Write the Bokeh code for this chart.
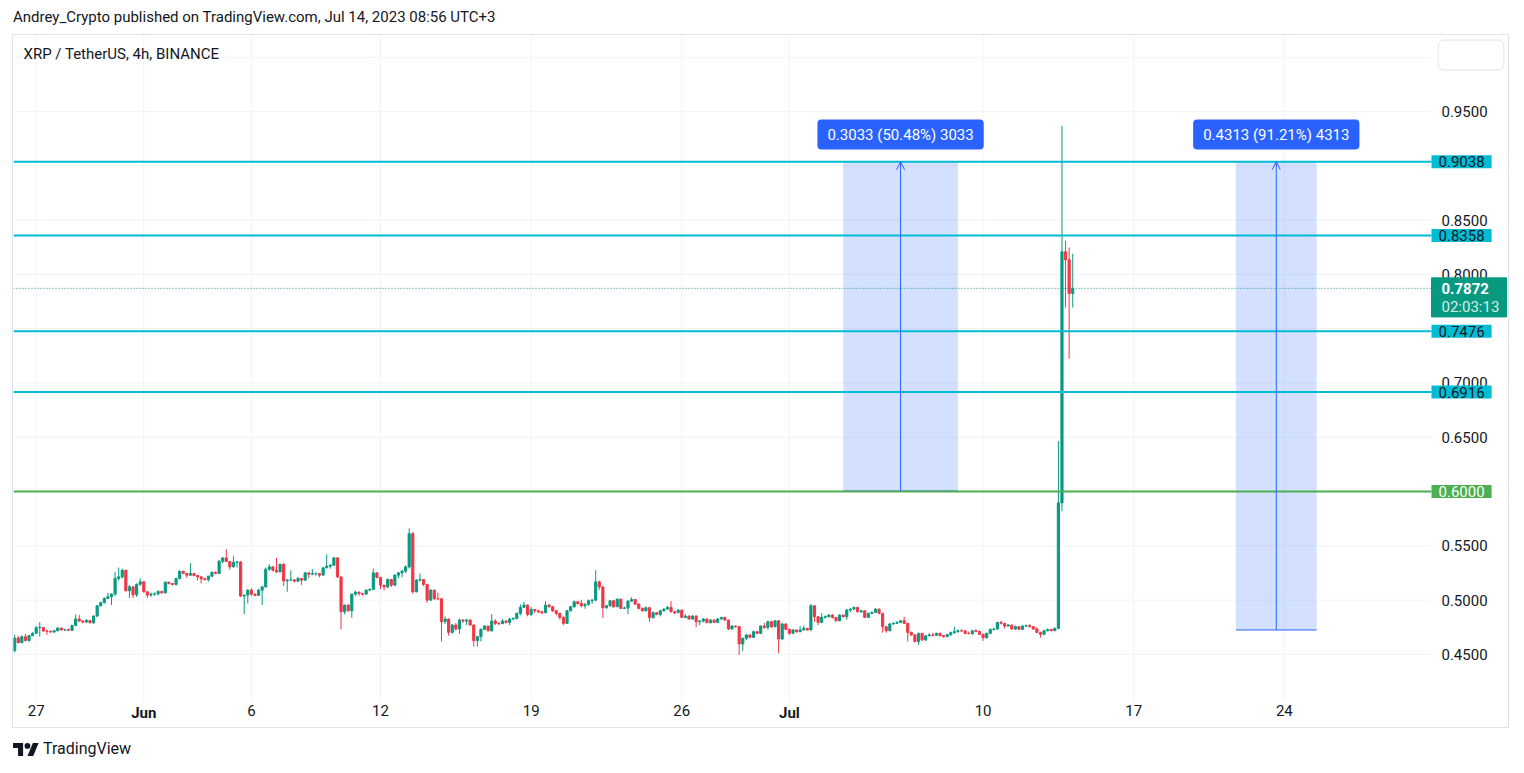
from bokeh.plotting import figure
from bokeh.models import (ColumnDataSource, FixedTicker, Label, Arrow, OpenHead,
                          Range1d, Div)
from bokeh.layouts import column
from bokeh.embed import file_html
from bokeh.resources import INLINE

# ---------------- data (XRP/USDT 4h) ----------------
first_open = 0.4535
closes = [
    0.4651, 0.4608, 0.4663, 0.4627, 0.4673, 0.4694, 0.4746, 0.4749, 0.4715, 0.4712,
    0.4706, 0.4718, 0.4743, 0.4725, 0.4728, 0.4722, 0.4767, 0.4826, 0.4807, 0.4798,
    0.4812, 0.4792, 0.4853, 0.4948, 0.4976, 0.5015, 0.5031, 0.5055, 0.5199, 0.5214,
    0.5275, 0.5086, 0.5122, 0.5049, 0.5147, 0.5168, 0.5077, 0.5046, 0.5055, 0.5058,
    0.5080, 0.5067, 0.5165, 0.5153, 0.5144, 0.5199, 0.5266, 0.5245, 0.5230, 0.5245,
    0.5226, 0.5214, 0.5196, 0.5190, 0.5220, 0.5257, 0.5245, 0.5358, 0.5389, 0.5355,
    0.5306, 0.5349, 0.5352, 0.5037, 0.5046, 0.5092, 0.5055, 0.5043, 0.5092, 0.5122,
    0.5285, 0.5306, 0.5275, 0.5260, 0.5330, 0.5177, 0.5184, 0.5186, 0.5174, 0.5199,
    0.5184, 0.5251, 0.5239, 0.5242, 0.5245, 0.5230, 0.5297, 0.5312, 0.5321, 0.5389,
    0.5214, 0.4893, 0.4954, 0.4902, 0.5055, 0.5073, 0.5061, 0.5055, 0.5092, 0.5098,
    0.5251, 0.5208, 0.5138, 0.5122, 0.5190, 0.5138, 0.5230, 0.5251, 0.5266, 0.5306,
    0.5612, 0.5077, 0.5184, 0.5190, 0.5144, 0.5000, 0.5092, 0.5015, 0.5012, 0.4801,
    0.4826, 0.4703, 0.4771, 0.4734, 0.4816, 0.4807, 0.4816, 0.4771, 0.4627, 0.4663,
    0.4731, 0.4761, 0.4718, 0.4807, 0.4786, 0.4783, 0.4807, 0.4795, 0.4826, 0.4832,
    0.4878, 0.4933, 0.4954, 0.4868, 0.4914, 0.4902, 0.4893, 0.4884, 0.4954, 0.4939,
    0.4902, 0.4878, 0.4841, 0.4786, 0.4902, 0.4939, 0.4985, 0.4969, 0.4948, 0.4960,
    0.4994, 0.5000, 0.5168, 0.5122, 0.4930, 0.4948, 0.4994, 0.4939, 0.5009, 0.4924,
    0.4927, 0.4991, 0.5006, 0.4963, 0.4924, 0.4902, 0.4930, 0.4838, 0.4884, 0.4868,
    0.4902, 0.4917, 0.4933, 0.4893, 0.4884, 0.4908, 0.4841, 0.4853, 0.4826, 0.4853,
    0.4801, 0.4807, 0.4826, 0.4792, 0.4816, 0.4795, 0.4826, 0.4841, 0.4816, 0.4734,
    0.4761, 0.4755, 0.4596, 0.4648, 0.4679, 0.4657, 0.4709, 0.4694, 0.4761, 0.4749,
    0.4801, 0.4755, 0.4810, 0.4642, 0.4780, 0.4731, 0.4694, 0.4725, 0.4709, 0.4725,
    0.4740, 0.4725, 0.4948, 0.4847, 0.4795, 0.4841, 0.4847, 0.4862, 0.4841, 0.4810,
    0.4862, 0.4847, 0.4908, 0.4917, 0.4933, 0.4893, 0.4902, 0.4841, 0.4878, 0.4887,
    0.4917, 0.4878, 0.4755, 0.4718, 0.4780, 0.4786, 0.4795, 0.4810, 0.4786, 0.4703,
    0.4679, 0.4618, 0.4694, 0.4633, 0.4670, 0.4679, 0.4676, 0.4694, 0.4673, 0.4663,
    0.4682, 0.4700, 0.4709, 0.4718, 0.4716, 0.4694, 0.4692, 0.4718, 0.4712, 0.4685,
    0.4654, 0.4694, 0.4730, 0.4734, 0.4795, 0.4786, 0.4761, 0.4770, 0.4734, 0.4755,
    0.4731, 0.4761, 0.4764, 0.4755, 0.4734, 0.4703, 0.4685, 0.4718, 0.4730, 0.4718,
    0.4740, 0.5896, 0.8209, 0.8135, 0.7824, 0.7872,
]
highs = [
    0.4680, 0.4670, 0.4675, 0.4688, 0.4680, 0.4705, 0.4760, 0.4798, 0.4752, 0.4730,
    0.4720, 0.4725, 0.4748, 0.4745, 0.4735, 0.4738, 0.4772, 0.4868, 0.4862, 0.4815,
    0.4825, 0.4820, 0.4860, 0.4955, 0.4985, 0.5025, 0.5067, 0.5062, 0.5260, 0.5300,
    0.5290, 0.5280, 0.5140, 0.5130, 0.5152, 0.5199, 0.5172, 0.5080, 0.5070, 0.5070,
    0.5090, 0.5085, 0.5170, 0.5168, 0.5158, 0.5205, 0.5275, 0.5270, 0.5250, 0.5340,
    0.5250, 0.5230, 0.5220, 0.5205, 0.5225, 0.5262, 0.5262, 0.5370, 0.5395, 0.5468,
    0.5360, 0.5404, 0.5360, 0.5358, 0.5050, 0.5100, 0.5110, 0.5060, 0.5100, 0.5130,
    0.5300, 0.5330, 0.5310, 0.5389, 0.5335, 0.5340, 0.5195, 0.5275, 0.5190, 0.5215,
    0.5205, 0.5260, 0.5255, 0.5285, 0.5255, 0.5250, 0.5305, 0.5422, 0.5330, 0.5395,
    0.5392, 0.5214, 0.4960, 0.4960, 0.5060, 0.5090, 0.5080, 0.5065, 0.5100, 0.5110,
    0.5290, 0.5255, 0.5215, 0.5140, 0.5200, 0.5195, 0.5240, 0.5260, 0.5280, 0.5320,
    0.5661, 0.5627, 0.5195, 0.5245, 0.5195, 0.5150, 0.5100, 0.5095, 0.5070, 0.5020,
    0.4850, 0.4830, 0.4780, 0.4790, 0.4830, 0.4825, 0.4830, 0.4825, 0.4775, 0.4670,
    0.4740, 0.4770, 0.4765, 0.4871, 0.4825, 0.4795, 0.4825, 0.4815, 0.4835, 0.4840,
    0.4885, 0.4960, 0.4985, 0.4960, 0.4935, 0.4920, 0.4910, 0.4900, 0.4990, 0.4965,
    0.4945, 0.4910, 0.4885, 0.4850, 0.4910, 0.4945, 0.4995, 0.4990, 0.5003, 0.4975,
    0.5005, 0.5010, 0.5275, 0.5180, 0.5125, 0.4955, 0.5000, 0.4998, 0.5015, 0.5012,
    0.4940, 0.4998, 0.5025, 0.5010, 0.4970, 0.4930, 0.4940, 0.4935, 0.4895, 0.4890,
    0.4910, 0.4925, 0.4945, 0.4990, 0.4900, 0.4915, 0.4912, 0.4870, 0.4858, 0.4860,
    0.4858, 0.4815, 0.4835, 0.4832, 0.4825, 0.4820, 0.4835, 0.4845, 0.4845, 0.4820,
    0.4770, 0.4765, 0.4760, 0.4655, 0.4690, 0.4685, 0.4720, 0.4715, 0.4768, 0.4790,
    0.4810, 0.4810, 0.4815, 0.4812, 0.4790, 0.4785, 0.4735, 0.4730, 0.4728, 0.4760,
    0.4765, 0.4745, 0.4963, 0.4950, 0.4850, 0.4880, 0.4860, 0.4870, 0.4870, 0.4845,
    0.4870, 0.4865, 0.4920, 0.4925, 0.4940, 0.4938, 0.4910, 0.4905, 0.4885, 0.4895,
    0.4925, 0.4922, 0.4880, 0.4760, 0.4790, 0.4795, 0.4805, 0.4815, 0.4847, 0.4790,
    0.4710, 0.4685, 0.4700, 0.4698, 0.4680, 0.4695, 0.4700, 0.4700, 0.4700, 0.4680,
    0.4690, 0.4710, 0.4755, 0.4730, 0.4730, 0.4725, 0.4710, 0.4725, 0.4730, 0.4718,
    0.4690, 0.4700, 0.4740, 0.4745, 0.4800, 0.4810, 0.4790, 0.4780, 0.4775, 0.4765,
    0.4760, 0.4768, 0.4775, 0.4780, 0.4760, 0.4750, 0.4710, 0.4725, 0.4738, 0.4735,
    0.4745, 0.6465, 0.9370, 0.8310, 0.8248, 0.8190,
]
lows = [
    0.4520, 0.4600, 0.4605, 0.4620, 0.4615, 0.4668, 0.4690, 0.4663, 0.4710, 0.4680,
    0.4700, 0.4700, 0.4712, 0.4720, 0.4715, 0.4718, 0.4715, 0.4760, 0.4800, 0.4785,
    0.4790, 0.4785, 0.4780, 0.4845, 0.4940, 0.4970, 0.5010, 0.4955, 0.5040, 0.5180,
    0.5200, 0.5080, 0.5020, 0.5020, 0.5030, 0.5130, 0.5070, 0.5020, 0.5030, 0.5040,
    0.5040, 0.5060, 0.5060, 0.5145, 0.5135, 0.5135, 0.5190, 0.5240, 0.5205, 0.5225,
    0.5220, 0.5180, 0.5153, 0.5180, 0.5170, 0.5215, 0.5240, 0.5240, 0.5340, 0.5350,
    0.5280, 0.5300, 0.5300, 0.5030, 0.4871, 0.4970, 0.5040, 0.5035, 0.5040, 0.4955,
    0.5115, 0.5270, 0.5265, 0.5250, 0.5255, 0.5130, 0.5077, 0.5180, 0.5165, 0.5170,
    0.5140, 0.5180, 0.5200, 0.5230, 0.5225, 0.5210, 0.5225, 0.5300, 0.5290, 0.5315,
    0.5205, 0.4731, 0.4868, 0.4895, 0.4838, 0.5040, 0.5040, 0.5040, 0.5050, 0.5085,
    0.5095, 0.5200, 0.5100, 0.5090, 0.5110, 0.5120, 0.5130, 0.5200, 0.5210, 0.5250,
    0.5290, 0.5060, 0.5070, 0.5170, 0.5130, 0.4976, 0.4995, 0.5000, 0.5000, 0.4618,
    0.4780, 0.4672, 0.4690, 0.4720, 0.4690, 0.4790, 0.4770, 0.4765, 0.4572, 0.4572,
    0.4620, 0.4725, 0.4710, 0.4710, 0.4770, 0.4770, 0.4780, 0.4785, 0.4770, 0.4815,
    0.4820, 0.4860, 0.4930, 0.4850, 0.4855, 0.4880, 0.4880, 0.4870, 0.4880, 0.4930,
    0.4890, 0.4860, 0.4820, 0.4770, 0.4780, 0.4895, 0.4930, 0.4960, 0.4935, 0.4920,
    0.4950, 0.4965, 0.4990, 0.5095, 0.4835, 0.4920, 0.4940, 0.4930, 0.4935, 0.4920,
    0.4920, 0.4870, 0.4985, 0.4960, 0.4915, 0.4895, 0.4895, 0.4800, 0.4830, 0.4860,
    0.4850, 0.4895, 0.4915, 0.4885, 0.4870, 0.4880, 0.4835, 0.4835, 0.4820, 0.4820,
    0.4750, 0.4770, 0.4795, 0.4788, 0.4785, 0.4790, 0.4790, 0.4820, 0.4810, 0.4725,
    0.4730, 0.4745, 0.4495, 0.4530, 0.4630, 0.4650, 0.4650, 0.4690, 0.4690, 0.4735,
    0.4730, 0.4745, 0.4750, 0.4510, 0.4630, 0.4725, 0.4680, 0.4690, 0.4700, 0.4705,
    0.4720, 0.4720, 0.4720, 0.4800, 0.4770, 0.4790, 0.4830, 0.4840, 0.4830, 0.4800,
    0.4805, 0.4840, 0.4820, 0.4890, 0.4910, 0.4885, 0.4880, 0.4835, 0.4835, 0.4870,
    0.4880, 0.4870, 0.4700, 0.4700, 0.4712, 0.4775, 0.4780, 0.4790, 0.4780, 0.4618,
    0.4670, 0.4610, 0.4590, 0.4625, 0.4625, 0.4670, 0.4665, 0.4675, 0.4665, 0.4655,
    0.4660, 0.4670, 0.4690, 0.4700, 0.4705, 0.4685, 0.4685, 0.4680, 0.4705, 0.4680,
    0.4624, 0.4645, 0.4685, 0.4720, 0.4730, 0.4775, 0.4740, 0.4755, 0.4725, 0.4725,
    0.4725, 0.4728, 0.4755, 0.4750, 0.4725, 0.4695, 0.4654, 0.4680, 0.4712, 0.4712,
    0.4715, 0.4735, 0.5820, 0.7695, 0.7224, 0.7695,
]

# time axis: x = days since Jun 1 2023 00:00 (UTC+3); first 4h bar opens May 26 03:00
first_bar_day = -5.875
bar_days = 4 / 24
day_first_bar_offset = 3 / 24            # first bar of each day opens 03:00 UTC+3
tick_days = [-5, 0, 5, 11, 18, 25, 30, 39, 46, 53]
tick_labels = ["27", "Jun", "6", "12", "19", "26", "Jul", "10", "17", "24"]
month_labels = ["Jun", "Jul"]

price_ticks = [0.45, 0.50, 0.55, 0.60, 0.65, 0.70, 0.75, 0.80, 0.85, 0.90, 0.95, 1.00]
hidden_price_ticks = [0.60, 0.75, 0.90, 1.00]

level_prices = [0.9038, 0.8358, 0.7476, 0.6916]   # cyan horizontal levels
support_price = 0.6000                              # green level
last_price = 0.7872
countdown = "02:03:13"

# long-position tools
pos_left = [32.625, 50.875]
pos_right = [37.958, 54.625]
pos_top = [0.9038, 0.9038]
pos_bottom = [0.6005, 0.4725]
pos_texts = ["0.3033 (50.48%) 3033", "0.4313 (91.21%) 4313"]

header_text = "Andrey_Crypto published on TradingView.com, Jul 14, 2023 08:56 UTC+3"
symbol_text = "XRP / TetherUS, 4h, BINANCE"

# ---------------- styling ----------------
UP, DOWN = "#089981", "#f23645"
CYAN, GREEN, BLUE = "#00bcd4", "#4caf50", "#2962ff"
TXT = "#131722"
GRID = "#f0f3fa"
FONT = "Roboto"

n = len(closes)
xs = [first_bar_day + i * bar_days for i in range(n)]
opens = [first_open] + closes[:-1]
tops = [max(o, c) for o, c in zip(opens, closes)]
bots = [min(o, c) for o, c in zip(opens, closes)]
cols = [UP if c >= o else DOWN for o, c in zip(opens, closes)]
src = ColumnDataSource(dict(x=xs, open=opens, high=highs, low=lows, close=closes,
                            top=tops, bottom=bots, color=cols))

# the frame covers the whole chart box; price scale strip and time scale strip inside it
X0, X1 = -5.929, 63.634      # frame left / right
X_SCALE = 59.963             # left edge of the price scale strip
Y0, Y1 = 0.38081, 1.02011    # frame bottom / top
Y_SCALE = 0.40664            # top edge of the time scale strip

p = figure(width=1497, height=694, x_range=Range1d(X0, X1), y_range=Range1d(Y0, Y1),
           output_backend="svg", toolbar_location=None, y_axis_location="right",
           x_axis_location="below",
           min_border_left=0, min_border_top=0, min_border_right=0, min_border_bottom=0,
           background_fill_color="white", border_fill_color="white")
p.outline_line_color = None
p.styles = {"border": "1px solid #e0e3eb"}
p.margin = (0, 0, 0, 4)
p.xgrid.visible = False
p.ygrid.visible = False

# axes drawn at fixed locations inside the chart box
x_ticks = [d + day_first_bar_offset for d in tick_days]
p.xaxis.fixed_location = Y_SCALE
p.xaxis.ticker = FixedTicker(ticks=x_ticks)
p.xaxis.major_label_overrides = {t: ("" if lab in month_labels else lab)
                                 for t, lab in zip(x_ticks, tick_labels)}
p.yaxis.fixed_location = X_SCALE
p.yaxis.ticker = FixedTicker(ticks=price_ticks)
p.yaxis.major_label_overrides = {t: ("" if t in hidden_price_ticks else f"{t:.4f}")
                                 for t in price_ticks}
for ax in (p.xaxis[0], p.yaxis[0]):
    ax.axis_line_color = None
    ax.major_tick_line_color = None
    ax.minor_tick_line_color = None
    ax.major_tick_out = 0
    ax.major_tick_in = 0
    ax.major_label_text_font = FONT
    ax.major_label_text_font_size = "15px"
    ax.major_label_text_color = TXT
p.xaxis.major_label_standoff = 4
p.yaxis.major_label_standoff = 10

# grid lines limited to the pane
p.segment(x0=X0, y0=price_ticks, x1=X_SCALE, y1=price_ticks, line_color=GRID, line_width=1)
p.segment(x0=x_ticks, y0=Y_SCALE, x1=x_ticks, y1=Y1, line_color=GRID, line_width=1)

# position boxes
p.quad(left=pos_left, right=pos_right, top=pos_top, bottom=pos_bottom,
       fill_color=BLUE, fill_alpha=0.2, line_color=None)
p.segment(x0=pos_left, y0=pos_bottom, x1=pos_right, y1=pos_bottom,
          line_color=BLUE, line_width=1)

# candles
p.segment(x0="x", y0="low", x1="x", y1="high", line_color="color", line_width=1, source=src)
p.vbar(x="x", width=0.1, top="top", bottom="bottom", fill_color="color",
       line_color="color", line_width=1, source=src)

# horizontal levels
p.segment(x0=X0, y0=level_prices, x1=X_SCALE, y1=level_prices, line_color=CYAN, line_width=2)
p.segment(x0=[X0], y0=[support_price], x1=[X_SCALE], y1=[support_price],
          line_color=GREEN, line_width=2)
p.segment(x0=[X0], y0=[last_price], x1=[X_SCALE], y1=[last_price],
          line_color=UP, line_width=1, line_dash="1 2")

# position arrows and labels
for l, r, t, b, txt in zip(pos_left, pos_right, pos_top, pos_bottom, pos_texts):
    mid = (l + r) / 2
    p.add_layout(Arrow(end=OpenHead(size=8, line_color=BLUE, line_width=1),
                       x_start=mid, y_start=b, x_end=mid, y_end=t,
                       line_color=BLUE, line_width=1))
    p.add_layout(Label(x=mid, y=0.9288, text=txt, text_align="center",
                       text_baseline="middle", text_color="white", text_font=FONT,
                       text_font_size="15px", background_fill_color=BLUE,
                       border_radius=4, padding=(10, 6)))

# symbol caption
p.add_layout(Label(x=-5.465, y=1.00351, text=symbol_text, text_align="left",
                   text_baseline="middle", text_color=TXT, text_font=FONT,
                   text_font_size="15px"))

# price tags on the price scale
for lv in level_prices:
    p.add_layout(Label(x=X_SCALE, y=lv, text=f"{lv:.4f}", text_align="left",
                       text_baseline="middle", text_color=TXT, text_font=FONT,
                       text_font_size="15px", background_fill_color=CYAN, padding=(7, 1)))
p.add_layout(Label(x=X_SCALE, y=support_price, text=f"{support_price:.4f}", text_align="left",
                   text_baseline="middle", text_color="white", text_font=FONT,
                   text_font_size="15px", background_fill_color=GREEN, padding=(7, 1)))
# last-price tag: teal block on the scale holding price and bar countdown
p.quad(left=[X_SCALE], right=[63.448], top=[0.79686], bottom=[0.76089],
       fill_color=UP, line_color=UP, level="overlay")
p.add_layout(Label(x=X_SCALE, y=last_price, text=f"{last_price:.4f}", text_align="left",
                   x_offset=10, text_baseline="middle", text_color="white", text_font=FONT,
                   text_font_size="15px", text_font_style="bold", level="overlay"))
p.add_layout(Label(x=X_SCALE, y=0.7701, text=countdown, text_align="left", x_offset=10,
                   text_baseline="middle", text_color="#d2eee7", text_font=FONT,
                   text_font_size="15px", level="overlay"))
# empty settings box at top of the price scale
p.add_layout(Label(x=61.80, y=1.00212, text=" ", text_align="center", text_baseline="middle",
                   text_font=FONT, text_font_size="15px", background_fill_color="white",
                   border_line_color="#e0e3eb", border_radius=6, padding=(31, 6)))

# bold month labels on the time scale
for t, lab in zip(x_ticks, tick_labels):
    if lab in month_labels:
        p.add_layout(Label(x=t, y=0.39557, text=lab, text_align="center",
                           text_baseline="middle", text_color=TXT, text_font=FONT,
                           text_font_size="15px", text_font_style="bold"))

header = Div(text=('<div style="font-family:Roboto;font-size:15px;color:#131722;'
                   'padding:0 0 0 5px;line-height:18px;white-space:nowrap;">'
                   + header_text + '</div>'), width=1500, height=26, margin=(0, 0, 0, 0))
logo = Div(text=('<div style="display:flex;align-items:center;padding:10px 0 0 5px;'
                 'font-family:Roboto;font-size:16px;color:#131722;white-space:nowrap;">'
                 '<svg width="26" height="13" viewBox="0 4 36 18">'
                 '<path fill="#131722" d="M14 22H7V11H0V4h14v18zM28 22h-8l7.5-18h8L28 22z"/>'
                 '<circle fill="#131722" cx="20" cy="8" r="4"/></svg>'
                 '<span style="margin-left:4px">TradingView</span></div>'),
           width=300, height=30, margin=(0, 0, 0, 0))

layout = column(header, p, logo, spacing=0, margin=(8, 0, 0, 8))
open("out.html", "w").write(file_html(layout, INLINE))
